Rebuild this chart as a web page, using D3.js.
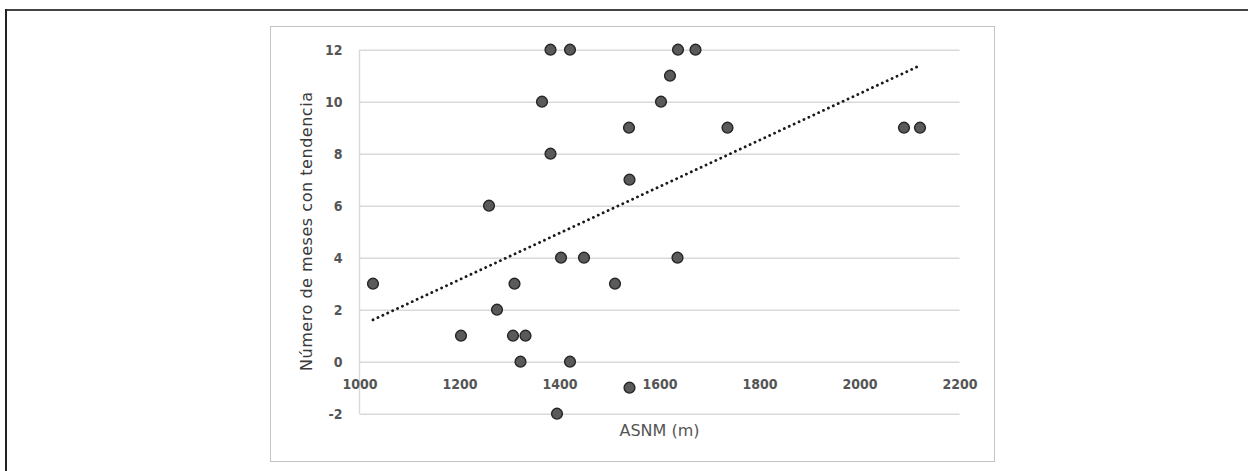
<!DOCTYPE html>
<html>
<head>
<meta charset="utf-8">
<script src="https://cdn.jsdelivr.net/npm/d3@7"></script>
<style>
  html, body { margin: 0; padding: 0; background: #fff; }
  svg { display: block; }
</style>
</head>
<body>
<svg id="chart" width="1248" height="471"></svg>
<script>
// ---- data ----
const altitudes = [1382, 1421, 1637, 1672, 1621, 1365, 1603, 1539, 1736, 2089, 2121, 1382, 1540, 1259,
                   1403, 1449, 1636, 1027, 1310, 1511, 1275, 1203, 1307, 1332, 1322, 1421, 1540, 1395];
const months    = [12, 12, 12, 12, 11, 10, 10, 9, 9, 9, 9, 8, 7, 6,
                   4, 4, 4, 3, 3, 3, 2, 1, 1, 1, 0, 0, -1, -2];
const xTicks = [1000, 1200, 1400, 1600, 1800, 2000, 2200];
const yTicks = [-2, 0, 2, 4, 6, 8, 10, 12];
const xTitle = "ASNM (m)";
const yTitle = "Número de meses con tendencia";

// ---- layout ----
const svg = d3.select("#chart");
const W = 1248, H = 471;
const plot = { left: 359.5, right: 959.5, top: 49.7, bottom: 413.7 };

const x = d3.scaleLinear().domain([1000, 2200]).range([plot.left, plot.right]);
const y = d3.scaleLinear().domain([-2, 12]).range([plot.bottom, plot.top]);

// outer frame (top and left lines)
svg.append("line").attr("x1", 5).attr("x2", W).attr("y1", 10).attr("y2", 10)
  .attr("stroke", "#444").attr("stroke-width", 2);
svg.append("line").attr("x1", 6).attr("x2", 6).attr("y1", 9).attr("y2", H)
  .attr("stroke", "#222").attr("stroke-width", 2);

// inner chart frame
svg.append("rect").attr("x", 270.5).attr("y", 26.5).attr("width", 724).attr("height", 435)
  .attr("fill", "#fff").attr("stroke", "#c4c4c4").attr("stroke-width", 1);

// gridlines
const grid = svg.append("g")
  .attr("transform", `translate(${plot.left},0)`)
  .call(d3.axisLeft(y).tickValues(yTicks).tickSize(-(plot.right - plot.left)).tickFormat(""));
grid.select(".domain").remove();
grid.selectAll(".tick line").attr("stroke", "#d9d9d9").attr("stroke-width", 1.6);

// vertical axis line
svg.append("line").attr("x1", plot.left).attr("x2", plot.left)
  .attr("y1", plot.top).attr("y2", plot.bottom)
  .attr("stroke", "#d9d9d9").attr("stroke-width", 1.4);

const fmt = d => String(d); // plain hyphen for negatives, as in the original

// y tick labels
const yAx = svg.append("g")
  .attr("transform", `translate(${plot.left},0)`)
  .call(d3.axisLeft(y).tickValues(yTicks).tickSize(0).tickPadding(17).tickFormat(fmt));
yAx.select(".domain").remove();
yAx.selectAll("text")
  .attr("font-family", "'DejaVu Sans Condensed', 'DejaVu Sans', sans-serif")
  .attr("font-weight", "bold")
  .attr("font-size", 14).attr("fill", "#555");

// x tick labels (axis sits at y = 0)
const xAx = svg.append("g")
  .attr("transform", `translate(0,${y(0)})`)
  .call(d3.axisBottom(x).tickValues(xTicks).tickSize(0).tickPadding(17).tickFormat(fmt));
xAx.select(".domain").remove();
xAx.selectAll("text")
  .attr("font-family", "'DejaVu Sans Condensed', 'DejaVu Sans', sans-serif")
  .attr("font-weight", "bold")
  .attr("font-size", 14).attr("fill", "#555");

// trendline (least squares)
const n = altitudes.length;
const mx = d3.mean(altitudes), my = d3.mean(months);
let sxy = 0, sxx = 0;
for (let i = 0; i < n; i++) { sxy += (altitudes[i] - mx) * (months[i] - my); sxx += (altitudes[i] - mx) ** 2; }
const slope = sxy / sxx, intercept = my - slope * mx;
const [x0, x1] = d3.extent(altitudes);
svg.append("line")
  .attr("x1", x(x0)).attr("y1", y(intercept + slope * x0))
  .attr("x2", x(x1)).attr("y2", y(intercept + slope * x1))
  .attr("stroke", "#1a1a1a").attr("stroke-width", 2.8)
  .attr("stroke-linecap", "round").attr("stroke-dasharray", "0.1,5.3");

// points
svg.append("g").selectAll("circle")
  .data(altitudes.map((a, i) => ({ a, m: months[i] })))
  .join("circle")
  .attr("cx", d => x(d.a)).attr("cy", d => y(d.m)).attr("r", 5.4)
  .attr("fill", "#5a5a5a").attr("stroke", "#262626").attr("stroke-width", 1.4);

// axis titles
svg.append("text")
  .attr("x", (plot.left + plot.right) / 2).attr("y", 436)
  .attr("text-anchor", "middle")
  .attr("font-family", "'DejaVu Sans', sans-serif")
  .attr("font-size", 16).attr("fill", "#555")
  .text(xTitle);

svg.append("text")
  .attr("transform", `translate(312,${(92 + 371) / 2}) rotate(-90)`)
  .attr("text-anchor", "middle")
  .attr("font-family", "'DejaVu Sans', sans-serif")
  .attr("font-size", 16).attr("fill", "#3a3a3a")
  .attr("textLength", 279).attr("lengthAdjust", "spacing")
  .text(yTitle);
</script>
</body>
</html>
